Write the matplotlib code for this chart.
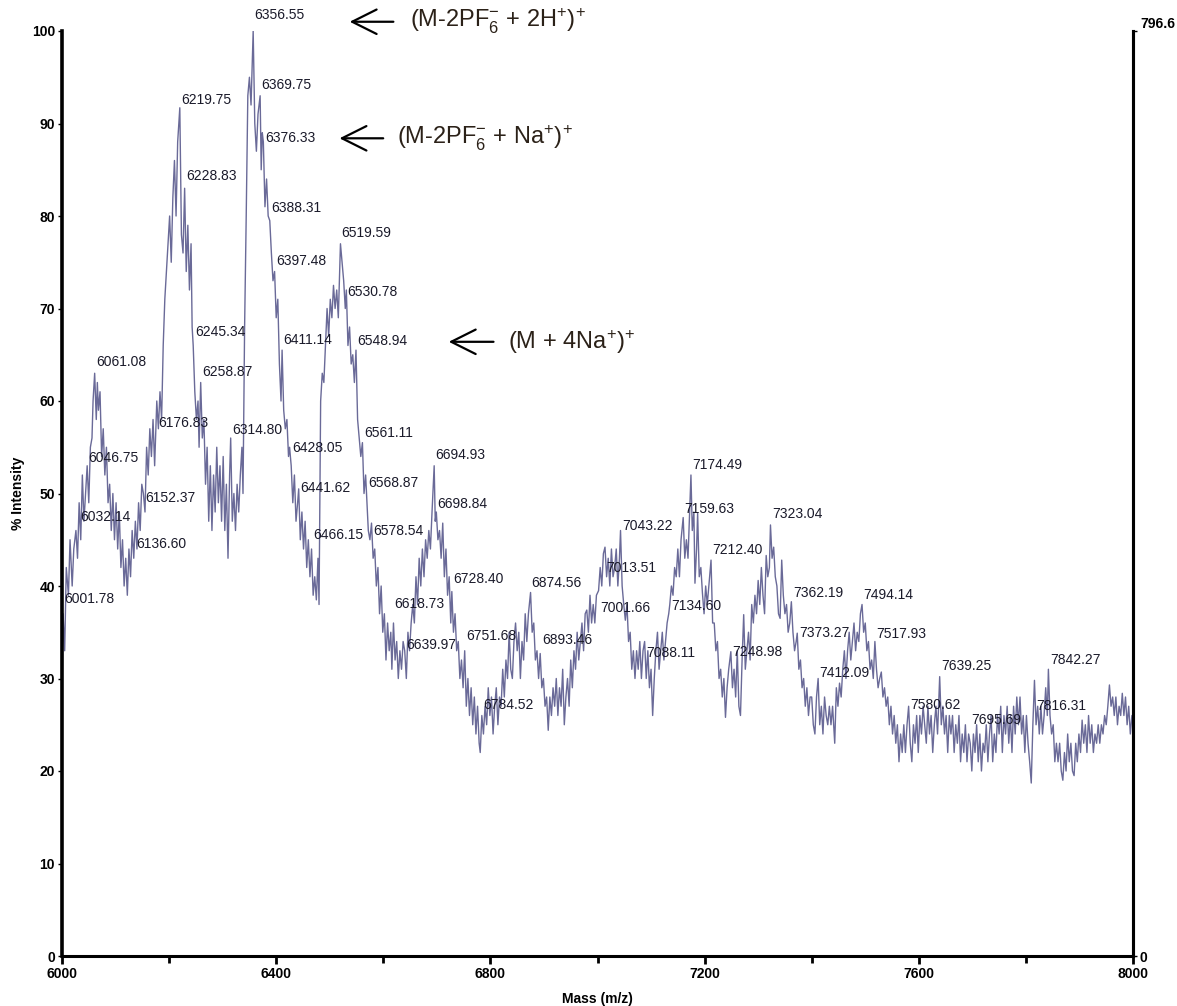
import numpy as np
import matplotlib
matplotlib.use("Agg")
import matplotlib.pyplot as plt

plt.rcParams['font.family'] = ['Liberation Sans', 'DejaVu Sans']
plt.rcParams['mathtext.fontset'] = 'custom'
plt.rcParams['mathtext.rm'] = 'Liberation Sans'
plt.rcParams['mathtext.it'] = 'Liberation Sans:italic'
plt.rcParams['mathtext.bf'] = 'Liberation Sans:bold'

# spectrum trace (m/z, % intensity)
mass_a = [6000, 6002, 6005, 6008, 6012, 6015, 6019, 6022, 6026, 6029,
          6032, 6035, 6038, 6041, 6044, 6047, 6050, 6053, 6056, 6058,
          6061, 6064, 6066, 6068, 6071, 6074, 6077, 6080, 6083, 6086,
          6089, 6092, 6095, 6098, 6101, 6104, 6107, 6110, 6113, 6116,
          6119, 6122, 6125, 6128, 6131, 6134, 6137]
int_a = [28, 37, 33, 42, 39, 45, 40, 44, 46, 43,
         49, 45, 52, 47, 50, 53, 49, 55, 56, 60,
         63, 58, 62, 59, 61, 54, 57, 52, 55, 49,
         51, 46, 50, 45, 49, 44, 48, 42, 45, 40,
         43, 39, 44, 41, 46, 43, 47]

mass_b = [6140, 6143, 6146, 6149, 6152, 6155, 6158, 6161, 6164, 6167,
          6170, 6173, 6177, 6180, 6183, 6186, 6189, 6192, 6195, 6198,
          6201, 6204, 6207, 6210, 6213, 6216, 6220, 6223, 6226, 6229,
          6232, 6235, 6238, 6241, 6243, 6245, 6248, 6251, 6254, 6256,
          6259, 6262, 6265, 6268, 6271, 6274, 6277, 6280, 6283, 6286,
          6289, 6292, 6295, 6298, 6301, 6304, 6307, 6310, 6313, 6315,
          6318, 6321, 6324, 6327, 6330, 6333, 6336, 6338, 6341, 6344,
          6347, 6350, 6353, 6357, 6360, 6363, 6366, 6370, 6372, 6374,
          6376, 6379, 6382, 6385, 6388, 6391, 6394, 6397, 6400, 6403,
          6406, 6409, 6411, 6414, 6417, 6420, 6423, 6425, 6428, 6431,
          6434, 6437, 6440, 6442, 6445, 6448, 6451, 6454, 6457, 6460,
          6463, 6466, 6469, 6472, 6475, 6478, 6480, 6483, 6486, 6489,
          6492, 6495, 6498, 6501, 6504, 6507, 6510, 6513, 6516, 6520,
          6523, 6526, 6529, 6531, 6534, 6537, 6540, 6543, 6546, 6549,
          6552, 6555, 6558, 6561, 6564, 6567, 6569, 6572, 6575, 6578]
int_b = [44, 49, 46, 51, 50, 48, 55, 52, 57, 54,
         58, 53, 60, 57, 61, 58, 66, 71, 74, 77,
         80, 75, 82, 86, 80, 88, 91.7, 78, 76, 83,
         74, 79, 72, 77, 68, 66, 61, 58, 60, 55,
         62, 56, 58, 51, 55, 47, 53, 46, 52, 48,
         55, 49, 53, 47, 54, 46, 51, 43, 52, 56,
         47, 50, 46, 51, 48, 52, 55, 50, 68, 80,
         93, 95, 92, 100, 90, 87, 91, 93, 85, 89,
         88, 81, 84, 80, 79.5, 76, 73, 74, 69, 71,
         64, 60, 65.5, 59, 57, 58, 54, 55, 53, 49,
         52, 47, 49, 50.5, 45, 48, 44, 47, 42, 45,
         41, 44, 39, 41, 38.5, 43, 38, 60, 63, 62,
         66, 70, 67, 71, 69, 72.5, 70, 72, 69, 77,
         75, 73, 70, 72, 66, 68, 64, 65, 62, 65.5,
         58, 56, 54, 55.5, 50, 52, 49.5, 46, 45, 46.8]

mass_c = [6581, 6584, 6587, 6590, 6593, 6596, 6599, 6602, 6605, 6608,
          6611, 6614, 6616, 6619, 6622, 6625, 6628, 6631, 6634, 6637,
          6640, 6643, 6646, 6649, 6652, 6655, 6658, 6661, 6664, 6667,
          6670, 6673, 6676, 6679, 6682, 6685, 6688, 6691, 6695, 6697,
          6699, 6702, 6705, 6708, 6711, 6714, 6717, 6720, 6723, 6726,
          6728, 6731, 6734, 6737, 6740, 6743, 6746, 6749, 6752, 6755,
          6758, 6761, 6764, 6767, 6770, 6773, 6776, 6779, 6781, 6784,
          6787, 6790, 6793, 6796, 6799, 6802, 6805, 6808, 6811, 6814,
          6817, 6820, 6823, 6826, 6829, 6832, 6835, 6838, 6841, 6844,
          6847, 6850, 6853, 6856, 6859, 6862, 6865, 6868, 6871, 6875,
          6878, 6881, 6884, 6887, 6890, 6893, 6896, 6899, 6902, 6905,
          6908, 6911, 6914, 6917, 6920, 6923, 6926, 6929, 6932, 6935,
          6938, 6941, 6944, 6947, 6950, 6953, 6956, 6959, 6962, 6965,
          6968, 6971, 6974, 6977, 6980, 6983, 6986, 6989, 6992, 6995]
int_c = [43, 44, 40, 42, 37, 40, 35, 37, 32, 36,
         33, 35, 31, 36, 32, 34, 30, 33, 31, 34,
         33, 30, 35, 33, 36, 38, 36, 41, 38, 43,
         40, 44, 41, 45, 43, 46, 44, 48, 53, 47,
         48, 45, 46, 43, 46.8, 41, 44, 39, 41, 36,
         39.4, 35, 37, 33, 34, 30, 32, 29, 33, 27,
         30, 26, 29, 25, 28, 24, 27, 23, 22, 26,
         24, 27, 25, 29, 26, 28, 24, 27, 29, 25,
         28, 27, 31, 28, 32, 30, 35, 31, 30, 34,
         36, 33, 35, 30, 34, 32, 37, 34, 37, 39.3,
         35, 36, 32, 33, 30, 32.7, 29, 30, 27, 28,
         24.4, 28, 26, 29, 27, 30, 26, 29, 27, 31,
         25, 28, 30, 27, 32, 29, 33, 31, 35, 32,
         34, 36, 33, 37, 37.4, 35, 39, 36, 38, 36]

mass_d = [6998, 7002, 7005, 7008, 7011, 7014, 7017, 7020, 7023, 7026,
          7029, 7032, 7035, 7038, 7041, 7043, 7046, 7049, 7052, 7055,
          7058, 7061, 7064, 7067, 7070, 7073, 7076, 7079, 7082, 7085,
          7088, 7091, 7094, 7097, 7100, 7103, 7106, 7109, 7112, 7115,
          7118, 7121, 7124, 7127, 7130, 7133, 7135, 7138, 7141, 7144,
          7147, 7150, 7153, 7156, 7160, 7163, 7166, 7169, 7172, 7174.5,
          7177, 7180, 7182, 7185, 7187, 7190, 7193, 7196, 7199, 7202,
          7205, 7208, 7212, 7215, 7218, 7221, 7224, 7227, 7230, 7233,
          7236, 7239, 7242, 7245, 7249, 7252, 7255, 7258, 7261, 7264,
          7267, 7270, 7273, 7276, 7279, 7282, 7285, 7288, 7291, 7294,
          7297, 7300, 7303, 7306, 7309, 7312, 7315, 7318, 7321, 7323,
          7326, 7329, 7332, 7335, 7338, 7341, 7344, 7347, 7350, 7353,
          7356, 7359, 7362, 7365, 7368, 7371, 7373, 7376, 7379, 7382]
int_d = [39, 39.5, 42, 40, 43.5, 44.2, 41, 43, 40, 44,
         41, 42, 44, 40, 43, 46, 40, 38, 36.3, 38,
         34, 35, 31, 33, 30, 33, 31, 34, 30, 33,
         34, 30, 33, 29, 31, 26, 30, 33, 35, 31,
         33, 35, 32, 34, 36, 37, 38, 40, 39, 42,
         41, 44, 41, 45, 47.4, 43, 45, 43, 48, 52,
         46, 48, 40.3, 44, 47.9, 41, 42, 39.2, 37, 40,
         38, 40, 42.8, 36, 36, 33, 34, 30, 31, 28,
         30, 25.8, 29, 31, 32.9, 29, 31, 28, 33, 27,
         26, 32, 36.9, 31, 33, 35, 32, 38, 36, 39,
         37, 40.6, 38, 42, 39, 37, 43.3, 41, 42, 46.6,
         43, 44.2, 41, 40, 37, 36.5, 42.8, 39, 37, 38,
         35, 36, 38.3, 35, 33, 34, 34.9, 31, 32, 29]

mass_e = [7385, 7388, 7391, 7394, 7397, 7400, 7403, 7406, 7409, 7412,
          7415, 7418, 7421, 7424, 7427, 7430, 7433, 7436, 7439, 7443,
          7446, 7449, 7452, 7455, 7458, 7461, 7464, 7467, 7470, 7473,
          7476, 7479, 7482, 7485, 7488, 7491, 7494, 7497, 7500, 7503,
          7506, 7509, 7512, 7515, 7518, 7521, 7524, 7527, 7530, 7533,
          7536, 7539, 7542, 7545, 7548, 7551, 7554, 7557, 7560, 7563,
          7566, 7569, 7572, 7575, 7578, 7581, 7584, 7587, 7590, 7593,
          7596, 7599, 7602, 7605, 7608, 7611, 7614, 7617, 7620, 7623,
          7626, 7629, 7632, 7635, 7639, 7642, 7645, 7648, 7651, 7654,
          7657, 7660, 7663, 7666, 7669, 7672, 7675, 7678, 7681, 7684,
          7687, 7690, 7693, 7696, 7699, 7702, 7705, 7708, 7711, 7714,
          7717, 7720, 7723, 7726, 7729, 7732, 7735, 7738, 7741, 7744,
          7747, 7750, 7753, 7756, 7759, 7762, 7765, 7768, 7771, 7774,
          7777, 7780, 7783, 7786, 7789, 7792, 7795, 7798, 7801, 7804,
          7807, 7810, 7813, 7816, 7819, 7822, 7825, 7828, 7831, 7834,
          7837, 7840, 7842, 7845, 7848, 7851, 7854, 7857, 7860, 7863,
          7866, 7869, 7872, 7875, 7878, 7881, 7884, 7887, 7890, 7893,
          7896, 7899, 7902, 7905, 7908, 7911, 7914, 7917, 7920, 7923,
          7926, 7929, 7932, 7935, 7938, 7941, 7944, 7947, 7950, 7953,
          7956, 7959, 7962, 7965, 7968, 7971, 7974, 7977, 7980, 7983,
          7986, 7989, 7992, 7995, 7998, 8000]
int_e = [30, 27, 29, 26, 28, 28, 25, 24, 28, 30,
         25, 27, 24, 28, 26, 25, 27, 25, 27, 23,
         29, 27, 29.5, 28, 31, 33, 30, 33, 35, 32,
         34, 36, 33, 35, 34, 37, 38, 35, 36, 33,
         34, 31, 32, 30, 34, 31, 29, 30, 30.7, 28,
         29, 27, 28, 25, 27, 24, 26, 23, 25, 21,
         24, 22, 25, 22, 25, 27, 23, 21, 25, 23,
         26, 22, 26, 24, 27, 25, 23, 27, 24, 26,
         22, 25, 27, 24, 30.2, 25, 27, 24, 26, 22,
         26, 24, 26, 22, 25, 23, 26, 21, 24, 22,
         25, 21, 24, 23, 20, 24, 22, 25, 21, 24,
         20, 23, 22, 25, 21, 24, 26, 21, 24, 22,
         26, 24, 27, 22, 26, 24, 27, 23, 26, 22,
         27, 24, 28, 25, 28, 24, 26, 22, 26, 23,
         21, 18.7, 25, 29.8, 25, 27, 24, 27, 24, 26,
         29, 26, 31, 26, 24, 25, 21, 23, 21, 23,
         20, 19, 22, 20, 24, 21, 23, 20, 19.5, 23,
         21, 24, 22, 25.5, 23, 25, 22, 26, 23, 25,
         22, 24, 23, 25, 23, 25, 24, 26, 25, 27,
         29.3, 27, 28, 26, 28, 25, 27, 26, 28.4, 26,
         28, 25, 27, 24, 26, 25]

# labelled peaks and the height of their labels
peak_mass = [6356.55, 6369.75, 6219.75, 6376.33, 6228.83, 6388.31, 6519.59, 6397.48,
             6530.78, 6245.34, 6411.14, 6548.94, 6061.08, 6258.87, 6176.83, 6314.80,
             6428.05, 6561.11, 6694.93, 6046.75, 6441.62, 6568.87, 7174.49, 6698.84,
             6152.37, 7159.63, 7323.04, 7043.22, 6032.14, 7212.40, 6466.15, 6578.54,
             6136.60, 7013.51, 6728.40, 6874.56, 6001.78, 7362.19, 7494.14, 7134.60,
             7001.66, 6618.73, 7373.27, 7517.93, 6751.68, 6893.46, 6639.97, 7088.11,
             7248.98, 7412.09, 7639.25, 7842.27, 6784.52, 7580.62, 7695.69, 7816.31]
label_y = [101.7, 94.2, 92.5, 88.4, 84.3, 80.9, 78.2, 75.1,
           71.8, 67.5, 66.6, 66.5, 64.2, 63.1, 57.6, 56.9,
           54.9, 56.5, 54.2, 53.8, 50.6, 51.1, 53.1, 48.9,
           49.5, 48.3, 47.8, 46.5, 47.5, 43.9, 45.5, 45.9,
           44.5, 41.9, 40.8, 40.3, 38.6, 39.2, 39.0, 37.8,
           37.6, 38.1, 34.9, 34.8, 34.6, 34.2, 33.6, 32.8,
           32.9, 30.6, 31.4, 32.0, 27.1, 27.1, 25.5, 27.0]

ion_labels = [r'(M-2PF$_6^{-}$ + 2H$^{+}$)$^{+}$',
              r'(M-2PF$_6^{-}$ + Na$^{+}$)$^{+}$',
              r'(M + 4Na$^{+}$)$^{+}$']

mass = np.array(mass_a + mass_b + mass_c + mass_d + mass_e, dtype=float)
intensity = np.array(int_a + int_b + int_c + int_d + int_e, dtype=float)

fig = plt.figure(figsize=(11.77, 10.06), dpi=100)
ax = fig.add_axes([62 / 1177, 1 - 956 / 1006, (1133 - 62) / 1177, (956 - 31) / 1006])

ax.plot(mass, intensity, color='#6a6a98', lw=1.0)

for m, y in zip(peak_mass, label_y):
    ax.annotate(f"{m:.2f}", (m, y), xytext=(1, 0), textcoords='offset points',
                ha='left', va='center', fontsize=10, color='#1a1a2a',
                annotation_clip=False)

# ion assignments with arrows
arrow_pos = [(6532, 6624, 101.0, 6650), (6513, 6605, 88.4, 6626), (6717, 6811, 66.4, 6833)]
for (head, tail, y, tx), lab in zip(arrow_pos, ion_labels):
    ax.annotate('', xy=(head, y), xytext=(tail, y),
                arrowprops=dict(arrowstyle='->, head_length=0.8, head_width=0.4',
                                lw=1.6, color='black', mutation_scale=22),
                annotation_clip=False)
    ax.text(tx, y, lab, ha='left', va='center', fontsize=17, color='#2b2118')

ax.set_xlim(6000, 8000)
ax.set_ylim(0, 100)
ax.set_xticks([6000, 6400, 6800, 7200, 7600, 8000])
ax.set_xticks([6200, 6600, 7000, 7400, 7800], minor=True)
ax.set_yticks(range(0, 101, 10))
ax.tick_params(axis='x', which='major', length=6, width=2, pad=2, labelsize=10)
ax.tick_params(axis='x', which='minor', length=5, width=2)
ax.tick_params(axis='y', length=3, width=1, pad=2, labelsize=10)
for t in ax.get_xticklabels() + ax.get_yticklabels():
    t.set_fontweight('bold')

ax.spines['top'].set_visible(False)
ax.spines['left'].set_linewidth(2.6)
ax.spines['bottom'].set_linewidth(2.2)
ax.spines['right'].set_linewidth(2.2)

ax.set_xlabel('Mass (m/z)', fontsize=10, fontweight='bold', labelpad=8)
ax.set_ylabel('% Intensity', fontsize=10, fontweight='bold', labelpad=5)

ax2 = ax.twinx()
ax2.set_ylim(0, 100)
ax2.set_yticks([0, 100])
ax2.set_yticklabels(['0', '796.6'])
ax2.tick_params(axis='y', length=3, width=1, pad=2, labelsize=10)
for t in ax2.get_yticklabels():
    t.set_fontweight('bold')
ax2.get_yticklabels()[1].set_va('bottom')
for s in ['top', 'left', 'bottom']:
    ax2.spines[s].set_visible(False)
ax2.spines['right'].set_linewidth(2.2)

fig.savefig('out.png', dpi=100)
